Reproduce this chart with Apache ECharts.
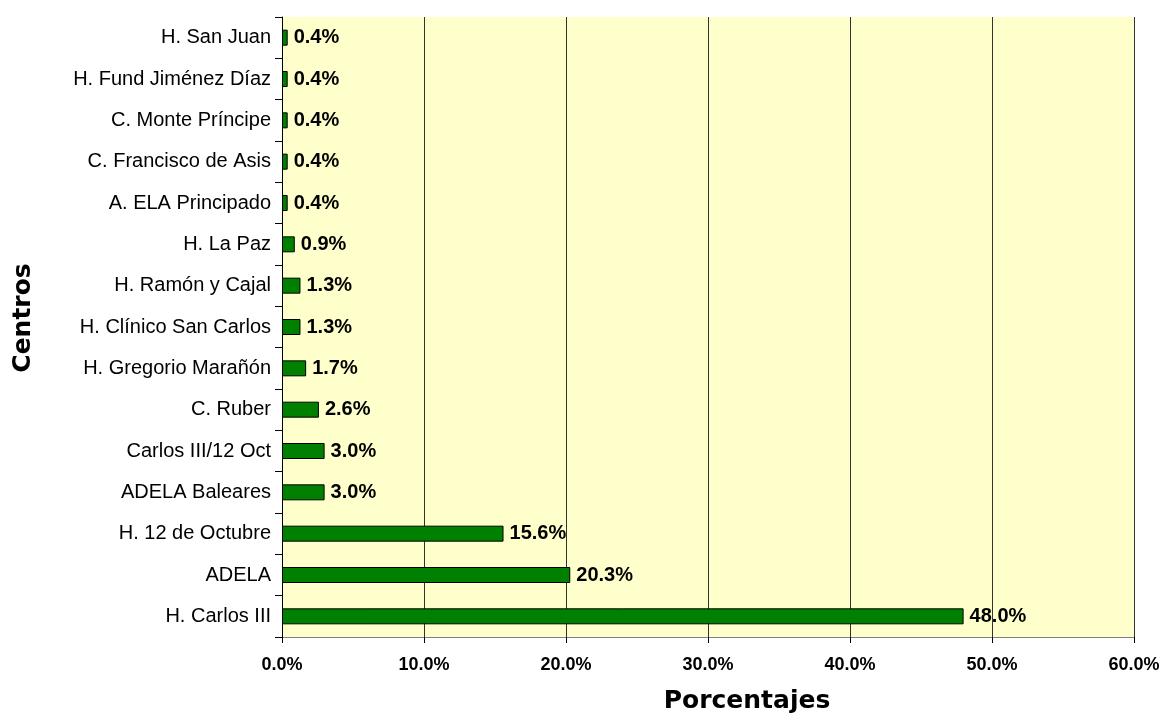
<!DOCTYPE html>
<html><head><meta charset="utf-8">
<script src="https://cdn.jsdelivr.net/npm/echarts@6/dist/echarts.min.js"></script>
<style>html,body{margin:0;padding:0;background:#fff}#c{width:1167px;height:715px}</style>
</head><body><div id="c"></div>
<script>
const categories = ["H. Carlos III","ADELA","H. 12 de Octubre","ADELA Baleares","Carlos III/12 Oct","C. Ruber","H. Gregorio Marañón","H. Clínico San Carlos","H. Ramón y Cajal","H. La Paz","A. ELA Principado","C. Francisco de Asis","C. Monte Príncipe","H. Fund Jiménez Díaz","H. San Juan"];
const values = [48.0,20.3,15.6,3.0,3.0,2.6,1.7,1.3,1.3,0.9,0.4,0.4,0.4,0.4,0.4];
const xTicks = [0,10,20,30,40,50,60];
const chart = echarts.init(document.getElementById('c'));
chart.setOption({
  animation:false,
  grid:{left:282,right:33,top:17,bottom:78,outerBoundsMode:'none',containLabel:false,show:true,backgroundColor:'#FFFFCC',borderWidth:0},
  xAxis:{type:'value',min:xTicks[0],max:xTicks[xTicks.length-1],interval:10,
    name:'Porcentajes',nameLocation:'middle',nameGap:52,
    nameTextStyle:{fontFamily:'DejaVu Sans',fontSize:25,fontWeight:'bold',color:'#000',padding:[0,0,0,78]},
    axisLine:{show:true,lineStyle:{color:'#808080'}},
    axisTick:{show:true,length:6,lineStyle:{color:'#000'}},
    axisLabel:{margin:19,fontFamily:'Liberation Sans',fontSize:18,fontWeight:'bold',color:'#000',formatter:v=>v.toFixed(1)+'%'},
    splitLine:{show:true,lineStyle:{color:'#333',width:1}}},
  yAxis:{type:'category',data:categories,
    name:'Centros',nameLocation:'middle',nameGap:246,nameRotate:90,
    nameTextStyle:{fontFamily:'DejaVu Sans',fontSize:25,fontWeight:'bold',color:'#000',padding:[0,0,0,18]},
    axisLine:{show:true,lineStyle:{color:'#000'}},
    axisTick:{show:true,length:7,lineStyle:{color:'#000'}},
    axisLabel:{margin:11,fontFamily:'Liberation Sans',fontSize:20,color:'#000'}},
  series:[{type:'bar',data:values,barWidth:16,
    itemStyle:{color:'#008000',borderColor:'#000',borderWidth:1},
    label:{show:true,position:'right',distance:6,fontFamily:'Liberation Sans',fontSize:20,fontWeight:'bold',color:'#000',formatter:p=>p.value.toFixed(1)+'%'}}]
});
</script></body></html>
